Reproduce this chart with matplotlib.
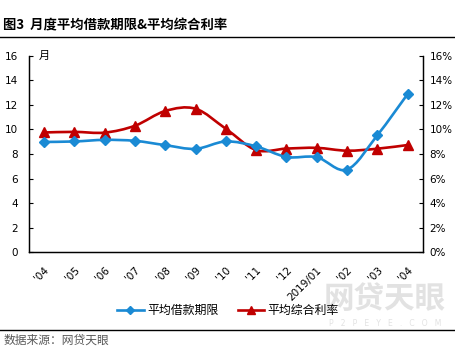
import numpy as np
import matplotlib.pyplot as plt
from matplotlib.path import Path
from matplotlib.patches import PathPatch
from matplotlib.lines import Line2D
from matplotlib.ticker import FuncFormatter, MultipleLocator

plt.rcParams['font.family'] = ['Noto Sans CJK SC', 'DejaVu Sans']

# 数据
months = ["'04", "'05", "'06", "'07", "'08", "'09", "'10", "'11", "'12",
          "2019/01", "'02", "'03", "'04"]
loan_term = [8.98, 9.02, 9.15, 9.07, 8.72, 8.42, 9.02, 8.62, 7.76, 7.74, 6.73, 9.52, 12.87]
avg_rate = [9.75, 9.8, 9.74, 10.3, 11.5, 11.68, 10.05, 8.32, 8.44, 8.5, 8.27, 8.43, 8.73]

BLUE = '#1a8ad4'
RED = '#c00000'


def smooth_path(xs, ys):
    """Excel 风格平滑线：Catmull-Rom 转三次贝塞尔"""
    pts = np.column_stack([xs, ys]).astype(float)
    verts = [pts[0]]
    codes = [Path.MOVETO]
    n = len(pts)
    for i in range(n - 1):
        p0 = pts[i - 1] if i > 0 else pts[i]
        p1 = pts[i]
        p2 = pts[i + 1]
        p3 = pts[i + 2] if i + 2 < n else pts[i + 1]
        c1 = p1 + (p2 - p0) / 6.0
        c2 = p2 - (p3 - p1) / 6.0
        verts += [c1, c2, p2]
        codes += [Path.CURVE4] * 3
    return Path(verts, codes)


fig = plt.figure(figsize=(4.56, 3.5), dpi=100)

# 水印（放在最底层）
fig.text(0.844, 0.146, '网贷天眼', fontsize=22, fontweight='heavy', color='#e2e2e2',
         ha='center', va='center', zorder=0)
fig.text(0.844, 0.077, 'P   2   P   E   Y   E   .   C   O   M', fontsize=5.5,
         color='#e2e2e2', family='DejaVu Sans', ha='center', va='center', zorder=0)

ax = fig.add_axes([0.0636, 0.279, 0.8634, 0.562])
ax2 = ax.twinx()

x = np.arange(len(months))

ax.add_patch(PathPatch(smooth_path(x, loan_term), fill=False, edgecolor=BLUE,
                       lw=1.9, capstyle='round', zorder=3))
ax.plot(x, loan_term, ls='none', marker='D', ms=5.5, color=BLUE, zorder=4)

ax2.add_patch(PathPatch(smooth_path(x, avg_rate), fill=False, edgecolor=RED,
                        lw=1.9, capstyle='round', zorder=3))
ax2.plot(x, avg_rate, ls='none', marker='^', ms=7.5, color=RED, zorder=4)

ax.set_xlim(-0.5, len(months) - 0.5)
ax.set_ylim(0, 16)
ax2.set_ylim(0, 16)
ax.yaxis.set_major_locator(MultipleLocator(2))
ax2.yaxis.set_major_locator(MultipleLocator(2))
ax2.yaxis.set_major_formatter(FuncFormatter(lambda v, p: f'{v:.0f}%'))

ax.set_xticks(x)
ax.set_xticklabels(months, rotation=45, ha='right', rotation_mode='anchor')
ax.tick_params(axis='x', length=0, pad=9, labelsize=7.5)
ax.tick_params(axis='y', direction='in', length=3, labelsize=7.5, pad=8)
ax2.tick_params(axis='y', direction='in', length=3, labelsize=7.5, pad=5)
for lab in ax.get_yticklabels() + ax2.get_yticklabels() + ax.get_xticklabels():
    lab.set_family('DejaVu Sans')

for a in (ax, ax2):
    a.spines['top'].set_visible(False)
    for s in ('left', 'right', 'bottom'):
        a.spines[s].set_linewidth(0.9)
ax.set_zorder(ax2.get_zorder() + 1)
ax.patch.set_visible(False)
ax2.patch.set_visible(False)

ax.text(0.025, 1.0, '月', transform=ax.transAxes, fontsize=8, va='center', ha='left')

handles = [Line2D([], [], color=BLUE, lw=1.9, marker='D', ms=4.5),
           Line2D([], [], color=RED, lw=1.9, marker='^', ms=6)]
fig.legend(handles, ['平均借款期限', '平均综合利率'], loc='center',
           bbox_to_anchor=(0.5, 0.113), ncol=2, frameon=False, fontsize=8.6,
           handlelength=2.2, columnspacing=1.6, handletextpad=0.3)

# 标题和分隔线
fig.text(0.007, 0.928, '图3  月度平均借款期限&平均综合利率', fontsize=9.6,
         fontweight='bold', ha='left', va='center')
fig.add_artist(Line2D([0, 1], [0.893, 0.893], color='black', lw=1.0))
fig.add_artist(Line2D([0, 1], [0.058, 0.058], color='black', lw=1.0))
fig.text(0.007, 0.028, '数据来源：网贷天眼', fontsize=8.5, color='#595959',
         ha='left', va='center')

fig.savefig('out.png', dpi=100)
